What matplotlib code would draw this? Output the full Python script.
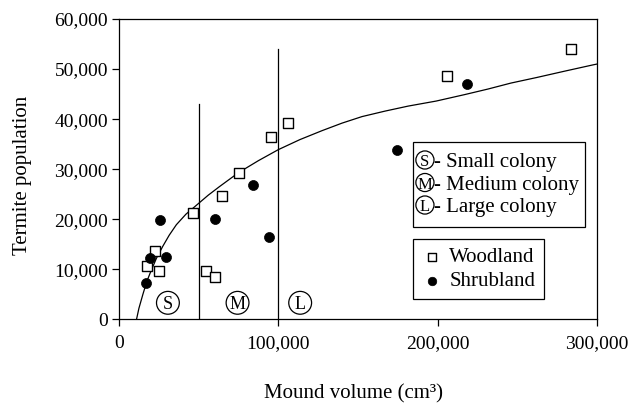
import matplotlib
matplotlib.use("Agg")
import matplotlib.pyplot as plt
from matplotlib.patches import Rectangle
from matplotlib.ticker import FuncFormatter

plt.rcParams['font.family'] = ['Liberation Serif', 'DejaVu Serif']

# Data
woodland_x = [17300, 22700, 25000, 46200, 54300, 60300, 64700, 75000, 95300, 105900, 206000, 283400]
woodland_y = [10700, 13700, 9700, 21200, 9700, 8400, 24700, 29200, 36400, 39200, 48700, 54000]

shrubland_x = [16700, 19300, 25600, 29300, 60300, 84400, 94200, 174700, 218700]
shrubland_y = [7300, 12300, 19900, 12500, 20000, 26800, 16500, 33900, 47100]

# Fitted curve
curve_x = [11000, 12500, 15000, 17500, 20000, 23500, 27500, 31500, 36000, 42000, 49000,
           56000, 63000, 75000, 87500, 100000, 113500, 127500, 140000, 152500, 167000,
           181500, 199000, 217000, 231500, 246000, 262000, 280000, 297000, 300000]
curve_y = [0, 2200, 5000, 7600, 9600, 12200, 14600, 16800, 18900, 21000, 22900,
           24800, 26500, 29300, 31700, 33900, 35900, 37700, 39200, 40500, 41600,
           42600, 43600, 44900, 46000, 47200, 48300, 49600, 50800, 51000]

# Colony class boundaries (x, top y)
bound_x = [50000, 100000]
bound_top = [43000, 54000]

# Colony class markers in the plot
class_letters = ['S', 'M', 'L']
class_x = [30700, 74400, 113700]
class_y = [3300, 3300, 3300]
class_names = ['Small colony', 'Medium colony', 'Large colony']

x_ticks = [0, 100000, 200000, 300000]
y_ticks = [0, 10000, 20000, 30000, 40000, 50000, 60000]

fig = plt.figure(figsize=(6.35, 4.04), dpi=100)
ax = fig.add_axes([0.1874, 0.2096, 0.7528, 0.7434])

ax.set_xlim(0, 300000)
ax.set_ylim(0, 60000)

ax.plot(curve_x, curve_y, color='black', lw=0.9, zorder=2)
for bx, bt in zip(bound_x, bound_top):
    ax.plot([bx, bx], [0, bt], color='black', lw=0.9, zorder=2)

ax.scatter(woodland_x, woodland_y, marker='s', s=42, facecolors='white',
           edgecolors='black', linewidths=1.0, zorder=3, label='Woodland')
ax.scatter(shrubland_x, shrubland_y, marker='o', s=52, facecolors='black',
           edgecolors='black', linewidths=0.5, zorder=3, label='Shrubland')

# circled letters in the plot
ax.scatter(class_x, class_y, marker='o', s=270, facecolors='none',
           edgecolors='black', linewidths=0.9, zorder=3)
for lt, cx, cy in zip(class_letters, class_x, class_y):
    ax.text(cx, cy, lt, ha='center', va='center_baseline', fontsize=13, zorder=4)

# Colony legend box (manual)
ax.add_patch(Rectangle((0.6157, 0.3084), 0.3592, 0.2830, transform=ax.transAxes,
                       facecolor='white', edgecolor='black', lw=0.9, zorder=5))
row_y = [0.5305, 0.4555, 0.3806]
ax.scatter([0.640] * 3, row_y, marker='o', s=170, facecolors='none',
           edgecolors='black', linewidths=0.9, transform=ax.transAxes, zorder=6)
for lt, nm, ry in zip(class_letters, class_names, row_y):
    ax.text(0.640, ry, lt, ha='center', va='center_baseline', fontsize=12,
            transform=ax.transAxes, zorder=7)
    ax.text(0.659, ry, '- ' + nm, ha='left', va='center_baseline', fontsize=15,
            transform=ax.transAxes, zorder=7)

leg = ax.legend(loc='upper left', bbox_to_anchor=(0.615, 0.2664), borderaxespad=0,
                frameon=True, fancybox=False, edgecolor='black', framealpha=1,
                fontsize=15, handlelength=1.0, handletextpad=0.35, borderpad=0.4,
                labelspacing=0.2, scatterpoints=1, markerscale=0.85)
leg.get_frame().set_linewidth(0.9)
leg.set_zorder(5)

ax.set_xticks(x_ticks)
ax.set_yticks(y_ticks)
fmt = FuncFormatter(lambda v, p: f"{int(v):,}")
ax.xaxis.set_major_formatter(fmt)
ax.yaxis.set_major_formatter(fmt)
ax.tick_params(direction='out', length=5, width=0.9, labelsize=14)
ax.tick_params(axis='x', pad=6)
ax.tick_params(axis='y', pad=3)
for sp in ax.spines.values():
    sp.set_linewidth(0.9)

ax.set_xlabel('Mound volume (cm³)', fontsize=15)
ax.set_ylabel('Termite population', fontsize=15)
ax.xaxis.set_label_coords(0.49, -0.215)
ax.yaxis.set_label_coords(-0.182, 0.479)

fig.savefig('out.png', dpi=100)
